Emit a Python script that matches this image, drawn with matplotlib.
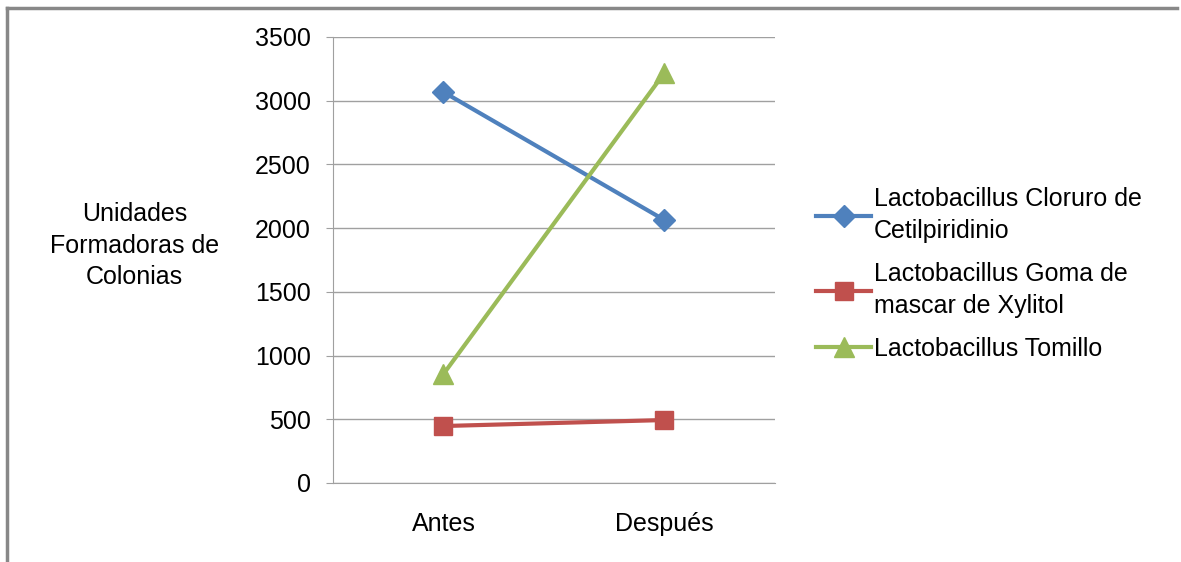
import matplotlib
matplotlib.use('Agg')
import matplotlib.pyplot as plt
from matplotlib.lines import Line2D

plt.rcParams['font.family'] = ['Liberation Sans', 'DejaVu Sans']

# Datos
categorias = ['Antes', 'Después']
cloruro = [3068, 2064]
xylitol = [447, 494]
tomillo = [855, 3217]
series_nombres = ['Lactobacillus Cloruro de\nCetilpiridinio',
                  'Lactobacillus Goma de\nmascar de Xylitol',
                  'Lactobacillus Tomillo']

fs = 18

fig = plt.figure(figsize=(11.81, 5.62), dpi=100)
ax = fig.add_axes([0.282, 0.1406, 0.374, 0.7936])

x = range(len(categorias))
ax.plot(x, cloruro, color='#4F81BD', lw=3, marker='D', ms=11,
        label=series_nombres[0])
ax.plot(x, xylitol, color='#C0504D', lw=3, marker='s', ms=13.5,
        label=series_nombres[1])
ax.plot(x, tomillo, color='#9BBB59', lw=3, marker='^', ms=15,
        label=series_nombres[2])

ax.set_xlim(-0.5, 1.5)
ax.set_ylim(0, 3500)
ax.set_yticks(range(0, 3501, 500))
ax.set_xticks(list(x))
ax.set_xticklabels(categorias)
ax.grid(axis='y', color='#a0a0a0', lw=1)
ax.set_axisbelow(True)
for s in ['top', 'right']:
    ax.spines[s].set_visible(False)
ax.spines['left'].set_color('#a0a0a0')
ax.spines['bottom'].set_color('#a0a0a0')
ax.tick_params(axis='y', labelsize=fs, length=5, color='#a0a0a0', pad=11)
ax.tick_params(axis='x', labelsize=fs, length=0, pad=21)

fig.text(0.114, 0.563, 'Unidades\nFormadoras de\nColonias', ha='center',
         va='center', fontsize=fs, linespacing=1.4)

leg = fig.legend(loc='upper left', bbox_to_anchor=(0.672, 0.708), frameon=False,
                 fontsize=fs, handlelength=2.2, handletextpad=0.1,
                 labelspacing=0.75)
for t in leg.get_texts():
    t.set_linespacing(1.45)

# marco exterior
fig.add_artist(Line2D([0.006, 0.997], [0.986, 0.986], color='#888888', lw=2.5))
fig.add_artist(Line2D([0.006, 0.006], [0.986, 0.0], color='#888888', lw=2.5))

fig.savefig('out.png', dpi=100)
